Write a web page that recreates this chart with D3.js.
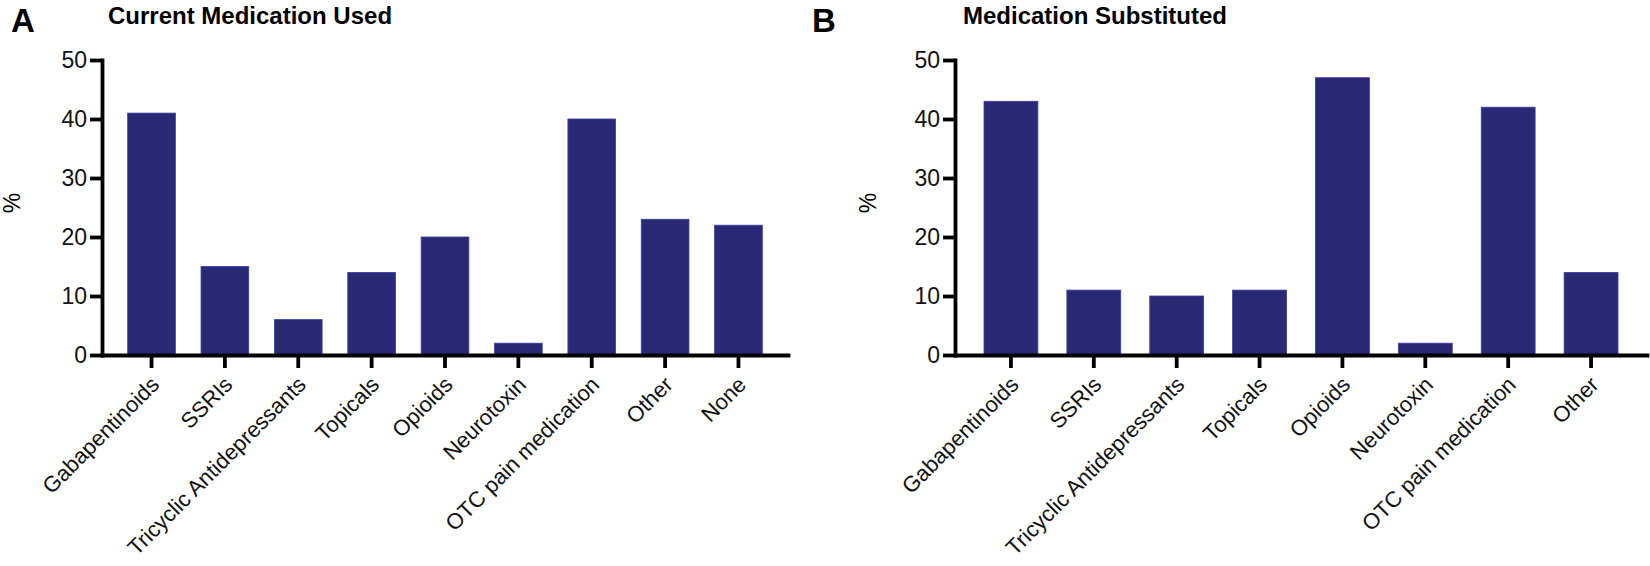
<!DOCTYPE html>
<html>
<head>
<meta charset="utf-8">
<script src="https://cdn.jsdelivr.net/npm/d3@7/dist/d3.min.js"></script>
<style>
  body { margin: 0; background: #fff; }
  text { font-family: "Liberation Sans", Arial, Helvetica, sans-serif; }
</style>
</head>
<body>
<svg id="chart" width="1650" height="566"></svg>
<script>
// values (percent)
const catsA = ["Gabapentinoids", "SSRIs", "Tricyclic Antidepressants", "Topicals", "Opioids",
  "Neurotoxin", "OTC pain medication", "Other", "None"];
const valsA = [41, 15, 6, 14, 20, 2, 40, 23, 22];

const catsB = ["Gabapentinoids", "SSRIs", "Tricyclic Antidepressants", "Topicals", "Opioids",
  "Neurotoxin", "OTC pain medication", "Other"];
const valsB = [43, 11, 10, 11, 47, 2, 42, 14];

const yTicks = [0, 10, 20, 30, 40, 50];

const svg = d3.select("#chart");
const barColor = "#2a2a74";

function drawPanel(letter, title, cats, vals, left, right, letterX, titleX, pctX) {
  var g = svg.append("g");

  var y = d3.scaleLinear().domain([0, 50]).range([355, 60]);
  var x = d3.scaleBand().domain(cats).range([left, right])
    .paddingInner(0.35).paddingOuter(0.35);

  // bars
  g.selectAll("rect.bar")
    .data(cats)
    .join("rect")
    .attr("class", "bar")
    .attr("x", d => x(d))
    .attr("width", x.bandwidth())
    .attr("y", (d, i) => y(vals[i]))
    .attr("height", (d, i) => y(0) - y(vals[i]))
    .attr("fill", barColor)
    .attr("stroke", "#3a3aa8")
    .attr("stroke-width", 0.8);

  // y axis
  var yAxis = g.append("g")
    .attr("transform", "translate(" + left + ",0)")
    .call(d3.axisLeft(y).tickValues(yTicks).tickSize(12).tickSizeOuter(0).tickPadding(3));
  yAxis.select(".domain").attr("stroke-width", 3.8).attr("stroke-linecap", "square");
  yAxis.selectAll(".tick line").attr("stroke-width", 3.8);
  yAxis.selectAll(".tick text").attr("font-size", 23).attr("fill", "#111")
    .style("font-family", "'Liberation Sans', Arial, sans-serif");

  // x axis
  var xAxis = g.append("g")
    .attr("transform", "translate(0," + y(0) + ")")
    .call(d3.axisBottom(x).tickSize(13).tickSizeOuter(0).tickFormat(""));
  xAxis.select(".domain").attr("stroke-width", 3.8).attr("stroke-linecap", "square");
  xAxis.selectAll(".tick line").attr("stroke-width", 3.8);

  // rotated category labels
  g.selectAll("text.cat")
    .data(cats)
    .join("text")
    .attr("class", "cat")
    .attr("text-anchor", "end")
    .attr("font-size", 22)
    .attr("fill", "#111")
    .attr("transform", d => "translate(" + (x(d) + x.bandwidth() / 2 + 9) + ",386) rotate(-45)")
    .text(d => d);

  // y label
  g.append("text")
    .attr("transform", "translate(" + pctX + ",203) rotate(-90)")
    .attr("text-anchor", "middle")
    .attr("dy", "0.35em")
    .attr("font-size", 23)
    .text("%");

  // panel letter and title
  g.append("text")
    .attr("x", letterX).attr("y", 32)
    .attr("font-size", 33).attr("font-weight", "bold")
    .text(letter);

  g.append("text")
    .attr("x", titleX).attr("y", 24)
    .attr("font-size", 24).attr("font-weight", "bold")
    .text(title);
}

drawPanel("A", "Current Medication Used", catsA, valsA, 102, 788, 11, 108, 12);
drawPanel("B", "Medication Substituted", catsB, valsB, 955, 1647, 812, 963, 868);
</script>
</body>
</html>
